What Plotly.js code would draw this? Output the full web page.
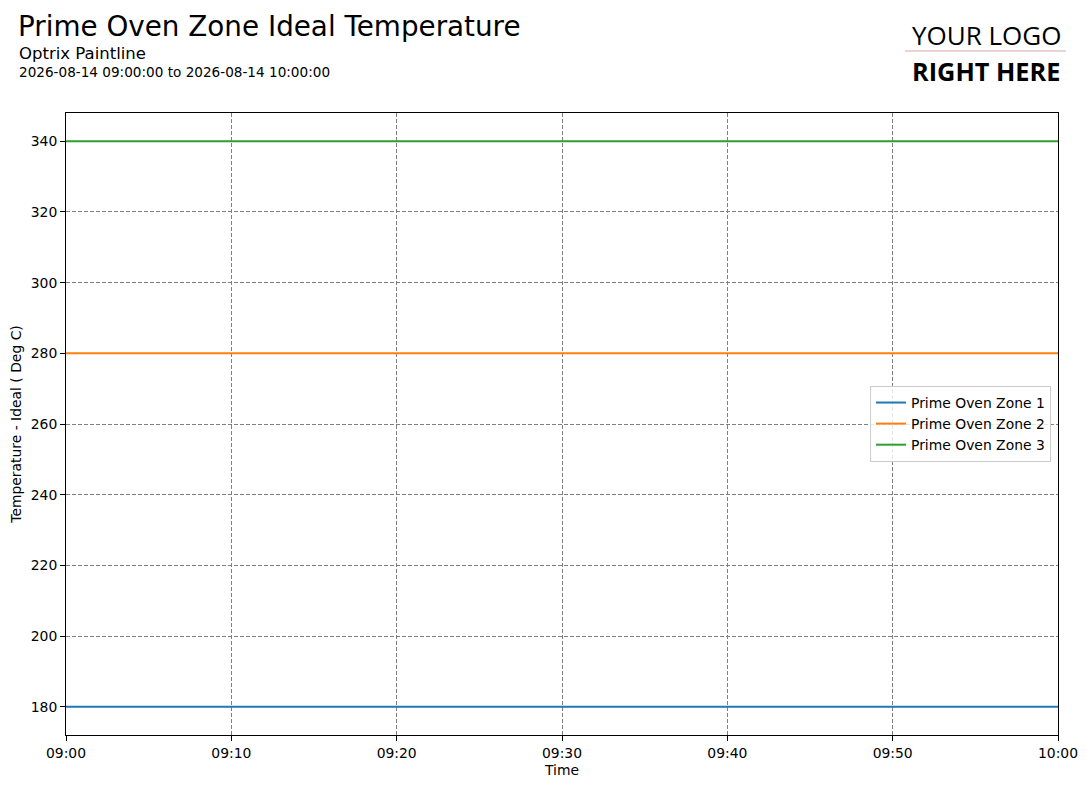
<!DOCTYPE html>
<html>
<head>
<meta charset="utf-8">
<script src="https://cdn.plot.ly/plotly-3.0.1.min.js"></script>
<style>html,body{margin:0;padding:0;background:#fff;}#chart{width:1087px;height:788px;}</style>
</head>
<body>
<div id="chart"></div>
<script>
var times = ["2026-08-14 09:00:00","2026-08-14 09:10:00","2026-08-14 09:20:00","2026-08-14 09:30:00","2026-08-14 09:40:00","2026-08-14 09:50:00","2026-08-14 10:00:00"];
var zone1 = [180,180,180,180,180,180,180];
var zone2 = [280,280,280,280,280,280,280];
var zone3 = [340,340,340,340,340,340,340];
var seriesNames = ["Prime Oven Zone 1","Prime Oven Zone 2","Prime Oven Zone 3"];
var seriesColors = ["#1f77b4","#ff7f0e","#2ca02c"];
var xTickVals = ["2026-08-14 09:00:00","2026-08-14 09:10:00","2026-08-14 09:20:00","2026-08-14 09:30:00","2026-08-14 09:40:00","2026-08-14 09:50:00","2026-08-14 10:00:00"];
var xTickText = ["09:00","09:10","09:20","09:30","09:40","09:50","10:00"];
var yTickVals = [180,200,220,240,260,280,300,320,340];

var W=1087,H=788,L=66,R=29,T=113,B=53;
var pw=W-L-R, ph=H-T-B;
function px(x){return (x-L)/pw;}
function py(y){return (H-B-y)/ph;}

var font = "DejaVu Sans, sans-serif";
var fs = 13.9;
var data = [zone1,zone2,zone3].map(function(v,i){
  return {x:times,y:v,type:"scatter",mode:"lines",name:seriesNames[i],line:{color:seriesColors[i],width:2}};
});

var layout = {
  width:W,height:H,
  margin:{l:L,r:R,t:T,b:B,pad:0},
  paper_bgcolor:"#fff",plot_bgcolor:"#fff",
  font:{family:font,size:fs,color:"#000"},
  showlegend:true,
  legend:{x:px(1051),xanchor:"right",y:py(424),yanchor:"middle",bgcolor:"rgba(255,255,255,0.8)",bordercolor:"#cccccc",borderwidth:1,font:{family:font,size:fs,color:"#000"},tracegroupgap:0},
  xaxis:{type:"date",range:["2026-08-14 09:00:00","2026-08-14 10:00:00"],tickvals:xTickVals,ticktext:xTickText,
    showgrid:true,gridcolor:"#808080",griddash:"4px,2px",gridwidth:1,
    showline:true,linecolor:"#000",linewidth:1,mirror:true,ticks:"outside",ticklen:5,tickcolor:"#000",zeroline:false,
    title:{text:"Time",font:{family:font,size:fs},standoff:5},tickfont:{family:font,size:fs}},
  yaxis:{range:[172,348],tickvals:yTickVals,
    showgrid:true,gridcolor:"#808080",griddash:"4px,2px",gridwidth:1,
    showline:true,linecolor:"#000",linewidth:1,mirror:true,ticks:"outside",ticklen:5,tickcolor:"#000",zeroline:false,
    title:{text:"Temperature - Ideal ( Deg C)",font:{family:font,size:fs},standoff:5},tickfont:{family:font,size:fs}},
  title:{text:"Prime Oven Zone Ideal Temperature",font:{family:font,size:27.8,color:"#000"},x:18/W,xanchor:"left",xref:"container",y:1-26/H,yanchor:"middle",yref:"container"},
  annotations:[
    {text:"Optrix Paintline",xref:"paper",yref:"paper",x:px(17),y:py(54),xanchor:"left",yanchor:"middle",showarrow:false,font:{family:font,size:16.5,color:"#000"}},
    {text:"2026-08-14 09:00:00 to 2026-08-14 10:00:00",xref:"paper",yref:"paper",x:px(17),y:py(72),xanchor:"left",yanchor:"middle",showarrow:false,font:{family:font,size:13.6,color:"#000"}},
    {text:"YOUR LOGO",xref:"paper",yref:"paper",x:px(986),y:py(35),xanchor:"center",yanchor:"middle",showarrow:false,font:{family:"Open Sans, sans-serif",size:26,color:"#000"}},
    {text:"<b>RIGHT HERE</b>",xref:"paper",yref:"paper",x:px(986),y:py(71),xanchor:"center",yanchor:"middle",showarrow:false,font:{family:"Open Sans, sans-serif",size:25.3,color:"#000"}}
  ],
  shapes:[
    {type:"line",xref:"paper",yref:"paper",x0:px(905),x1:px(1066),y0:py(51),y1:py(51),line:{color:"#d4a8a8",width:1}}
  ]
};
Plotly.newPlot("chart",data,layout,{displayModeBar:false,staticPlot:true});
</script>
</body>
</html>
